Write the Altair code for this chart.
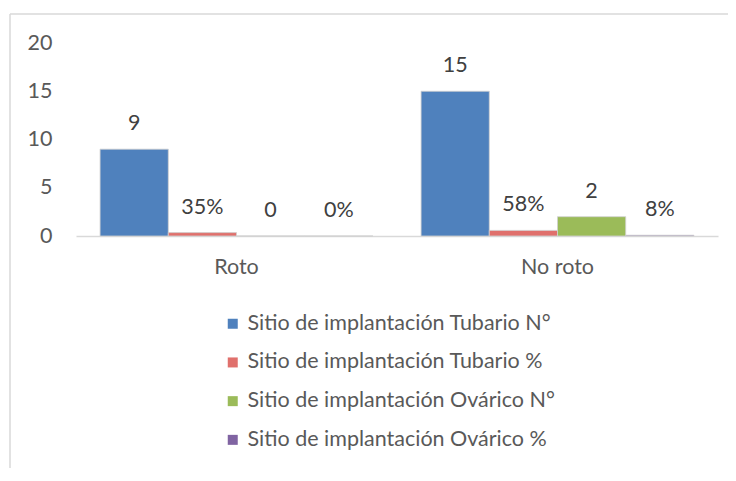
import altair as alt
import pandas as pd

categories = ["Roto", "No roto"]
series = [
    "Sitio de implantación Tubario N°",
    "Sitio de implantación Tubario %",
    "Sitio de implantación Ovárico N°",
    "Sitio de implantación Ovárico %",
]
colors = ["#4F81BD", "#E0706C", "#9BBB59", "#8064A2"]
values_roto = [9, 0.35, 0, 0]
values_noroto = [15, 0.58, 2, 0.08]
labels_roto = ["9", "35%", "0", "0%"]
labels_noroto = ["15", "58%", "2", "8%"]

rows = []
for cat, vals, labs in [("Roto", values_roto, labels_roto), ("No roto", values_noroto, labels_noroto)]:
    for s, v, l in zip(series, vals, labs):
        rows.append({"category": cat, "series": s, "value": v, "label": l})
df = pd.DataFrame(rows)

FONT = "Lato"
FS = 21.5

base = alt.Chart(df).encode(
    x=alt.X(
        "category:N",
        sort=categories,
        title=None,
        scale=alt.Scale(paddingInner=0.15, paddingOuter=0.075),
        axis=alt.Axis(
            labelAngle=0, ticks=False, domain=True, domainColor="#D9D9D9",
            domainWidth=1.5, labelFont=FONT, labelFontSize=FS,
            labelColor="#595959", labelPadding=20, grid=False,
        ),
    ),
    xOffset=alt.XOffset("series:N", sort=series,
                        scale=alt.Scale(paddingInner=0, paddingOuter=0)),
    y=alt.Y(
        "value:Q",
        title=None,
        scale=alt.Scale(domain=[0, 20]),
        axis=alt.Axis(
            values=[0, 5, 10, 15, 20], domain=False, ticks=False, grid=False,
            labelFont=FONT, labelFontSize=FS, labelColor="#595959",
            labelPadding=24,
        ),
    ),
)

bars = base.mark_bar(stroke="#D0D0D0", strokeWidth=0.8).encode(
    color=alt.Color(
        "series:N",
        sort=series,
        scale=alt.Scale(domain=series, range=colors),
        legend=alt.Legend(
            title=None, orient="none", legendX=146, legendY=270,
            symbolType="square", symbolSize=100, symbolStrokeWidth=0,
            labelFont=FONT, labelFontSize=FS, labelColor="#595959",
            labelOffset=4, rowPadding=15.7, labelLimit=500,
        ),
    )
)

text = base.mark_text(
    dy=-25, baseline="middle", font=FONT, fontSize=FS, color="#404040"
).encode(text="label:N")

frame = alt.Data(values=[{"a": 1}])
border_top = alt.Chart(frame).mark_rule(color="#D9D9D9", strokeWidth=1.5).encode(
    x=alt.value(-66), x2=alt.value(760), y=alt.value(-29),
)
border_left = alt.Chart(frame).mark_rule(color="#D9D9D9", strokeWidth=1.5).encode(
    x=alt.value(-66), y=alt.value(-29), y2=alt.value(520),
)

chart = alt.layer(border_top, border_left, bars, text).properties(
    width=642, height=193,
    autosize=alt.AutoSizeParams(type="none"),
    padding={"left": 68, "top": 35, "right": 10, "bottom": 232},
).configure_view(stroke=None)

chart.save("out.html", embed_options={"renderer": "svg", "actions": False})
